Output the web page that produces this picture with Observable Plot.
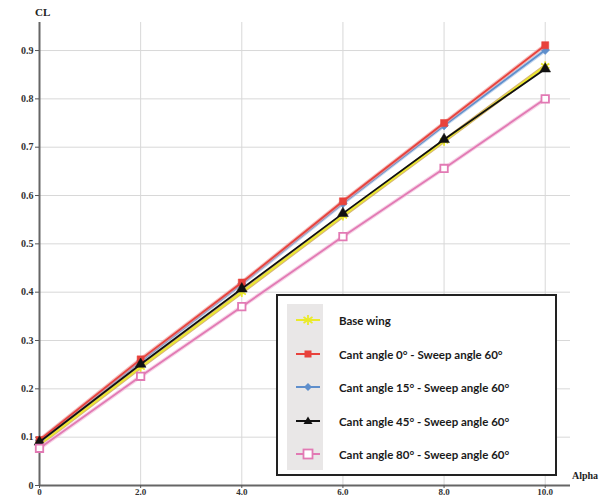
<!DOCTYPE html>
<html>
<head>
<meta charset="utf-8">
<script src="https://cdn.jsdelivr.net/npm/d3@7"></script>
<script src="https://cdn.jsdelivr.net/npm/@observablehq/plot@0.6"></script>
<style>
  html, body { margin: 0; padding: 0; background: #fff; }
  #wrap { position: relative; width: 608px; height: 497px; overflow: hidden; }
  #wrap svg { position: absolute; left: 0; top: 0; }
  .lbl { position: absolute; font-family: "Liberation Serif", serif; font-weight: bold; font-size: 11px; color: #222; }
  #legend { position: absolute; left: 276px; top: 294px; width: 281px; height: 182px; border: 2px solid #222; background: #fff; box-sizing: border-box; }
  #legend .panel { position: absolute; left: 9px; top: 8px; width: 36px; height: 166px; background: #e9e7e7; }
  #legend .row { position: absolute; left: 0; height: 20px; display: flex; align-items: center; }
  #legend .row svg { position: static; margin-left: 16px; }
  #legend .row span { margin-left: 17px; font-family: Lato, "Open Sans", sans-serif; font-weight: bold; font-size: 11.5px; color: #1a1a1a; }
</style>
</head>
<body>
<div id="wrap"></div>
<script>
const alpha = [0, 2, 4, 6, 8, 10];
const seriesNames = [
  "Base wing",
  "Cant angle 0° - Sweep angle 60°",
  "Cant angle 15° - Sweep angle 60°",
  "Cant angle 45° - Sweep angle 60°",
  "Cant angle 80° - Sweep angle 60°"
];
const baseWing = [0.085, 0.245, 0.400, 0.558, 0.713, 0.868];
const cant0    = [0.094, 0.261, 0.420, 0.588, 0.750, 0.911];
const cant15   = [0.093, 0.257, 0.417, 0.584, 0.745, 0.901];
const cant45   = [0.090, 0.251, 0.407, 0.563, 0.716, 0.862];
const cant80   = [0.077, 0.226, 0.370, 0.515, 0.656, 0.800];
const xTicks = [0, 2, 4, 6, 8, 10];
const yTicks = [0, 0.1, 0.2, 0.3, 0.4, 0.5, 0.6, 0.7, 0.8, 0.9];

const colors = ["#eaea2a", "#e8423c", "#5f8fcc", "#111111", "#e27ab4"];
const halo   = ["#c99a3a", "#f0a0a0", "#a8c4e8", null, "#f2c0dc"];
const symbols = ["asterisk", "square", "diamond2", "triangle", "square"];
const values = [baseWing, cant0, cant15, cant45, cant80];

// draw order: yellow, blue, red, black, pink
const order = [0, 2, 1, 3, 4];
const marks = [
  Plot.gridX(xTicks, {stroke: "#d8d8d8", strokeOpacity: 1, strokeWidth: 1}),
  Plot.gridY(yTicks, {stroke: "#d8d8d8", strokeOpacity: 1, strokeWidth: 1}),
  Plot.ruleX([0], {stroke: "#666", strokeWidth: 2}),
  Plot.ruleY([0], {stroke: "#666", strokeWidth: 2}),
  Plot.axisX(xTicks, {tickSize: 3, tickPadding: 0, fontSize: 9, stroke: "#555", tickFormat: d => d === 0 ? "0" : d.toFixed(1), label: null}),
  Plot.axisY(yTicks, {tickSize: 4, tickPadding: 2, stroke: "#555", tickFormat: d => d === 0 ? "0" : d.toFixed(1), label: null})
];
for (const i of order) {
  const data = alpha.map((a, j) => ({a, v: values[i][j]}));
  if (halo[i]) marks.push(Plot.line(data, {x: "a", y: "v", stroke: halo[i], strokeWidth: 4, strokeOpacity: 0.7}));
  marks.push(Plot.line(data, {x: "a", y: "v", stroke: colors[i], strokeWidth: 1.8}));
  if (i === 4) {
    marks.push(Plot.dot(data, {x: "a", y: "v", symbol: "square", r: 4.2, fill: "white", stroke: colors[i], strokeWidth: 1.8}));
  } else if (i === 0) {
    marks.push(Plot.dot(data, {x: "a", y: "v", symbol: "asterisk", r: 4.5, stroke: colors[i], strokeWidth: 1.8}));
  } else {
    marks.push(Plot.dot(data, {x: "a", y: "v", symbol: symbols[i], r: 4, fill: colors[i], stroke: colors[i], strokeWidth: 0.5}));
  }
}

const chart = Plot.plot({
  width: 608,
  height: 497,
  marginLeft: 39,
  marginRight: 38,
  marginTop: 22,
  marginBottom: 12,
  x: {domain: [0, 10.5]},
  y: {domain: [0, 0.958]},
  style: {fontFamily: "'Liberation Serif', serif", fontSize: "10px", fontWeight: "bold", color: "#333", background: "white"},
  marks
});
const wrap = document.getElementById("wrap");
wrap.appendChild(chart);

// axis titles
const cl = document.createElement("div");
cl.className = "lbl"; cl.textContent = "CL";
cl.style.left = "35px"; cl.style.top = "6px";
wrap.appendChild(cl);
const al = document.createElement("div");
al.className = "lbl"; al.textContent = "Alpha"; al.style.fontSize = "10px";
al.style.left = "572px"; al.style.top = "470px";
wrap.appendChild(al);

// legend
const lg = document.createElement("div");
lg.id = "legend";
lg.innerHTML = '<div class="panel"></div>';
const rowTops = [14, 48, 81, 115, 148];
const symSvg = [
  `<line x1="2" y1="10" x2="26" y2="10" stroke="${colors[0]}" stroke-width="2"/><g stroke="${colors[0]}" stroke-width="1.8"><line x1="14" y1="5" x2="14" y2="15"/><line x1="9.5" y1="7" x2="18.5" y2="13"/><line x1="9.5" y1="13" x2="18.5" y2="7"/></g>`,
  `<line x1="2" y1="10" x2="26" y2="10" stroke="${colors[1]}" stroke-width="2"/><rect x="10.5" y="6.5" width="7" height="7" fill="${colors[1]}"/>`,
  `<line x1="2" y1="10" x2="26" y2="10" stroke="${colors[2]}" stroke-width="2"/><path d="M14 6 L18 10 L14 14 L10 10 Z" fill="${colors[2]}"/>`,
  `<line x1="2" y1="10" x2="26" y2="10" stroke="${colors[3]}" stroke-width="2"/><path d="M14 5.5 L18.5 13 L9.5 13 Z" fill="${colors[3]}"/>`,
  `<line x1="2" y1="10" x2="26" y2="10" stroke="${colors[4]}" stroke-width="2"/><rect x="9.5" y="5.5" width="9" height="9" fill="white" stroke="${colors[4]}" stroke-width="1.8"/>`
];
seriesNames.forEach((name, i) => {
  const row = document.createElement("div");
  row.className = "row";
  row.style.top = rowTops[i] + "px";
  row.innerHTML = `<svg width="28" height="20">${symSvg[i]}</svg><span>${name}</span>`;
  lg.appendChild(row);
});
wrap.appendChild(lg);
</script>
</body>
</html>
